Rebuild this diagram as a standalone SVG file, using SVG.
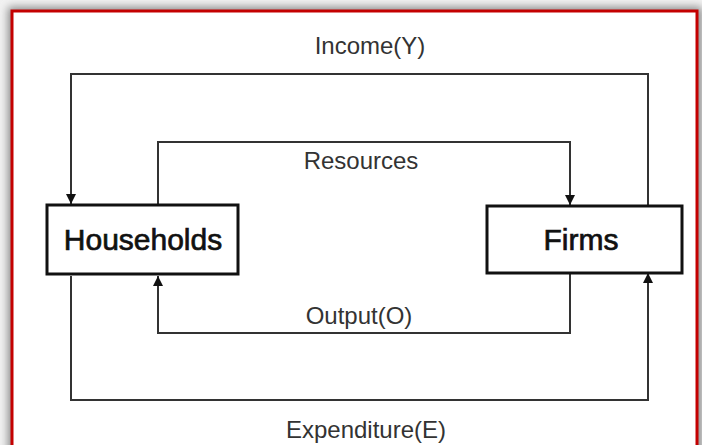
<svg xmlns="http://www.w3.org/2000/svg" width="702" height="445" viewBox="0 0 702 445">
<style>
.box{fill:#fff;stroke:#111;stroke-width:3}
.lbl{font-family:"Liberation Sans",Arial,sans-serif;font-size:24px;fill:#333;text-anchor:middle}
.nlbl{font-family:"Liberation Sans",Arial,sans-serif;font-size:30px;fill:#111;stroke:#111;stroke-width:0.7;text-anchor:middle}
.wire{fill:none;stroke:#333;stroke-width:2}
</style>
<defs>
<marker id="ah" viewBox="0 0 10 10" refX="10" refY="5" markerWidth="5" markerHeight="5" orient="auto" markerUnits="strokeWidth">
<path d="M0,0 L10,5 L0,10 z" fill="#111"/>
</marker>
<filter id="sh" x="-10%" y="-10%" width="120%" height="120%">
<feGaussianBlur stdDeviation="4"/>
</filter>
</defs>
<rect x="0" y="0" width="702" height="445" fill="#f2f2f2"/>
<rect x="8" y="7" width="694" height="460" fill="#8a8a8a" filter="url(#sh)"/>
<rect x="12" y="11" width="685" height="450" fill="#fff" stroke="#c40000" stroke-width="3"/>
<g id="connectors">
<path class="wire" d="M648,205 V74 H71 V204" marker-end="url(#ah)"/>
<path class="wire" d="M158,204 V142 H570 V205" marker-end="url(#ah)"/>
<path class="wire" d="M570,273 V333 H158 V276" marker-end="url(#ah)"/>
<path class="wire" d="M71,276 V400 H648 V273" marker-end="url(#ah)"/>
<text class="lbl" x="370" y="54">Income(Y)</text>
<text class="lbl" x="361" y="169">Resources</text>
<text class="lbl" x="359" y="324">Output(O)</text>
<text class="lbl" x="366" y="438">Expenditure(E)</text>
</g>
<g id="households">
<rect class="box" x="47" y="205" width="191" height="69"/>
<text class="nlbl" x="143" y="250">Households</text>
</g>
<g id="firms">
<rect class="box" x="487" y="206" width="195" height="67"/>
<text class="nlbl" x="581" y="250">Firms</text>
</g>
</svg>
